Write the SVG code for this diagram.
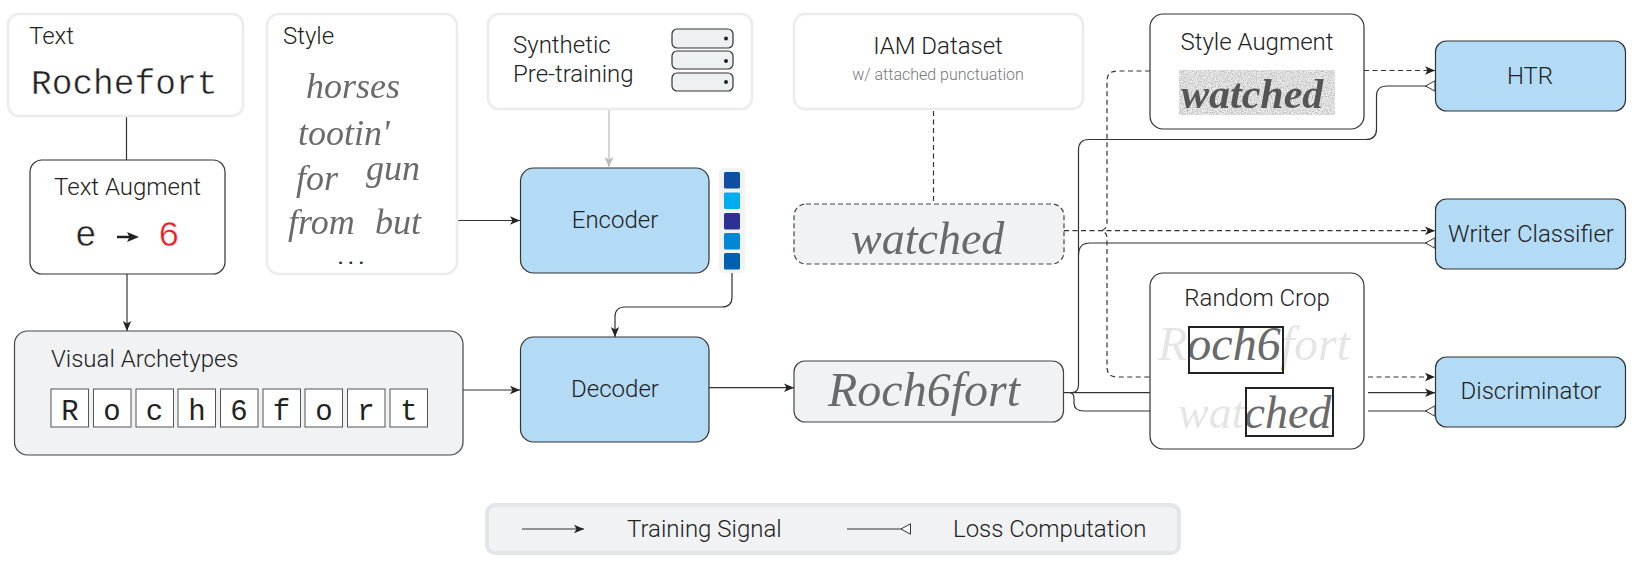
<svg xmlns="http://www.w3.org/2000/svg" width="1638" height="567" viewBox="0 0 1638 567">
<style>
text{font-family:"Roboto","Liberation Sans",sans-serif;font-weight:300;font-size:24px;fill:#222}
.mono{font-family:"Liberation Mono","DejaVu Sans Mono",monospace;font-weight:400;stroke:#fff;stroke-width:.45px;paint-order:normal}
.cellt{font-family:"Liberation Mono","DejaVu Sans Mono",monospace;font-weight:400;font-size:29px;text-anchor:middle}
.c{text-anchor:middle}
.soft{fill:#fff;stroke:#ececec;stroke-width:2.5}
.plain{fill:#fff;stroke:#333;stroke-width:1.2}
.blue{fill:#b3dbf5;stroke:#333;stroke-width:1.2}
.grey{fill:#f1f2f4;stroke:#444;stroke-width:1.2}
.dash{fill:#f1f2f4;stroke:#444;stroke-width:1.2;stroke-dasharray:5 3}
.cell{fill:#fff;stroke:#555;stroke-width:1}
.srv{fill:#edf1f1;stroke:#333;stroke-width:1.2}
.hw{font-family:"Liberation Serif","DejaVu Serif",serif;font-style:italic;font-weight:400;fill:#6a6a6a}
.crop{fill:none;stroke:#222;stroke-width:2}
.l{fill:none;stroke:#333;stroke-width:1.2}
.a{marker-end:url(#arrow)}
.o{marker-end:url(#open)}
.d{stroke-dasharray:5 3.5}
</style>
<defs>
<marker id="arrow" markerUnits="userSpaceOnUse" markerWidth="12" markerHeight="12" refX="10" refY="5" orient="auto"><path d="M0,0.8 L10,5 L0,9.2 L2.5,5 Z" fill="#222"/></marker>
<marker id="open" markerUnits="userSpaceOnUse" markerWidth="14" markerHeight="14" refX="11" refY="6" orient="auto"><path d="M1,6 L10.500,0.800 L10.500,11.200 Z" fill="#fff" stroke="#333" stroke-width="1"/></marker>
<marker id="arrowg" markerUnits="userSpaceOnUse" markerWidth="12" markerHeight="12" refX="10" refY="5" orient="auto"><path d="M0,0.5 L10,5 L0,9.5 L2.5,5 Z" fill="#bbb"/></marker>
<clipPath id="cr1"><rect x="1189" y="327" width="94" height="46"/></clipPath>
<clipPath id="cr2"><rect x="1246" y="388" width="87" height="48"/></clipPath>
<filter id="noise" x="0" y="0" width="100%" height="100%"><feTurbulence type="fractalNoise" baseFrequency="0.8" numOctaves="2" seed="3"/><feColorMatrix values="0 0 0 0 0.45 0 0 0 0 0.45 0 0 0 0 0.45 2.200 0 0 0 -0.800"/></filter>
<filter id="soften" x="-5%" y="-20%" width="110%" height="140%"><feGaussianBlur stdDeviation="0.55"/></filter>
</defs>

<g id="connectors">
<path class="l" d="M126.500 116V160"/>
<path class="l a" d="M127 274V331"/>
<path class="l a" d="M457 220.500H520"/>
<path d="M609 109V167" fill="none" stroke="#bbb" stroke-width="1.2" marker-end="url(#arrowg)"/>
<path class="l a" d="M732 273V297Q732 307 722 307H625Q615 307 615 317V337"/>
<path class="l a" d="M463 390H520"/>
<path class="l a" d="M709 387.700H794"/>
<path class="l d" d="M933.500 111V204"/>
<path class="l" d="M1063 392.700H1150" stroke-width="1.5"/>
<path class="l a" d="M1368 392.700H1435"/>
<path class="l" d="M1070 392.700Q1074 393 1074 399V403Q1074 411 1084 411H1150"/>
<path class="l o" d="M1368 411H1435.500"/>
<path class="l o" d="M1072 392.700Q1078.500 392 1078.500 385V150Q1078.500 139.500 1089 139.500H1366Q1376.500 139.500 1376.500 129V96Q1376.500 86 1387 86H1435.500"/>
<path class="l o" d="M1078.500 255Q1078.500 243 1090 243H1435.500"/>
<path class="l a d" d="M1064 230.700H1435"/>
<path class="l d" d="M1150 71H1117Q1107 71 1107 81V224Q1107 228 1102 230.700Q1107 233 1107 238V367Q1107 377 1117 377H1150"/>
<path class="l a d" d="M1364 70.500H1435"/>
<path class="l a d" d="M1368 377H1435"/>
</g>

<g id="text-input">
<rect class="soft" x="8" y="14" width="235" height="102" rx="11"/>
<text x="29" y="44">Text</text>
<text class="mono" x="31" y="94" style="font-size:34.500px">Rochefort</text>
</g>

<g id="style-input">
<rect class="soft" x="267" y="14" width="190" height="260" rx="12"/>
<text x="283" y="44">Style</text>
<g filter="url(#soften)">
<text class="hw" x="306" y="98" style="font-size:36px">horses</text>
<text class="hw" x="298" y="145" style="font-size:36px">tootin'</text>
<text class="hw" x="296" y="190" style="font-size:36px">for</text>
<text class="hw" x="366" y="180" style="font-size:36px">gun</text>
<text class="hw" x="288" y="234" style="font-size:36px">from</text>
<text class="hw" x="375" y="234" style="font-size:36px">but</text>
</g>
<text class="c" x="353" y="264" style="font-size:24px;font-weight:400;letter-spacing:4px">...</text>
</g>

<g id="text-augment">
<rect class="plain" x="30" y="160" width="195" height="114" rx="12"/>
<text class="c" x="127.500" y="195">Text Augment</text>
<text class="mono" x="75" y="246" style="font-size:36px">e</text>
<path d="M117 237H134" fill="none" stroke="#222" stroke-width="2.500"/>
<path d="M127 232L139 237L127 242L129.500 237Z" fill="#222"/>
<text class="mono" x="158" y="246" style="font-size:36px;fill:#ed1c24">6</text>
</g>

<g id="visual-archetypes">
<rect class="grey" x="14.500" y="331" width="448.500" height="124" rx="13"/>
<text x="51" y="367">Visual Archetypes</text>
<rect class="cell" x="51" y="389" width="37.500" height="38"/><text class="cellt" x="70" y="420">R</text>
<rect class="cell" x="93.500" y="389" width="37.500" height="38"/><text class="cellt" x="112" y="420">o</text>
<rect class="cell" x="136" y="389" width="37.500" height="38"/><text class="cellt" x="154.500" y="420">c</text>
<rect class="cell" x="178" y="389" width="37.500" height="38"/><text class="cellt" x="197" y="420">h</text>
<rect class="cell" x="220.500" y="389" width="37.500" height="38"/><text class="cellt" x="239" y="420">6</text>
<rect class="cell" x="263" y="389" width="37.500" height="38"/><text class="cellt" x="281.500" y="420">f</text>
<rect class="cell" x="305" y="389" width="37.500" height="38"/><text class="cellt" x="324" y="420">o</text>
<rect class="cell" x="347.500" y="389" width="37.500" height="38"/><text class="cellt" x="366" y="420">r</text>
<rect class="cell" x="390" y="389" width="37.500" height="38"/><text class="cellt" x="409" y="420">t</text>
</g>

<g id="synthetic">
<rect class="soft" x="488" y="14" width="264" height="95" rx="11"/>
<text x="513" y="53">Synthetic</text>
<text x="513" y="82">Pre-training</text>
<rect class="srv" x="672" y="29" width="61" height="19" rx="5"/><circle cx="726" cy="38.500" r="2" fill="#222"/>
<rect class="srv" x="672" y="51" width="61" height="18" rx="5"/><circle cx="726" cy="61" r="2" fill="#222"/>
<rect class="srv" x="672" y="73" width="61" height="18" rx="5"/><circle cx="726" cy="82" r="2" fill="#222"/>
</g>

<g id="encoder">
<rect class="blue" x="520.500" y="168" width="188.500" height="105" rx="13"/>
<text class="c" x="615" y="228">Encoder</text>
</g>

<g id="style-vector">
<rect x="719" y="168" width="26" height="105" rx="5" fill="#f1f2f4"/>
<rect x="724" y="172" width="16" height="16.500" rx="1.500" fill="#0d4fa3"/>
<rect x="724" y="192.500" width="16" height="16.500" rx="1.500" fill="#00aeef"/>
<rect x="724" y="213" width="16" height="16.500" rx="1.500" fill="#2e3192"/>
<rect x="724" y="233" width="16" height="16.500" rx="1.500" fill="#0088d4"/>
<rect x="724" y="253" width="16" height="16.500" rx="1.500" fill="#0060b0"/>
</g>

<g id="decoder">
<rect class="blue" x="520.500" y="337" width="188.500" height="105" rx="13"/>
<text class="c" x="615" y="397">Decoder</text>
</g>

<g id="iam-dataset">
<rect class="soft" x="794" y="14" width="289" height="95" rx="11"/>
<text class="c" x="938" y="54">IAM Dataset</text>
<text class="c" x="938" y="80" style="font-size:16px;fill:#777">w/ attached punctuation</text>
</g>

<g id="real-sample">
<rect class="dash" x="794" y="204" width="270" height="60" rx="12"/>
<text class="hw" x="851" y="254" filter="url(#soften)" style="font-size:46px">watched</text>
</g>

<g id="fake-sample">
<rect class="grey" x="794" y="361" width="269.500" height="61" rx="11"/>
<text class="hw" x="828" y="406" filter="url(#soften)" style="font-size:48px">Roch6fort</text>
</g>

<g id="style-augment">
<rect class="plain" x="1150" y="14" width="214" height="115" rx="13"/>
<text class="c" x="1257" y="50">Style Augment</text>
<rect x="1179" y="70" width="156" height="45" fill="#eee"/>
<rect x="1179" y="70" width="156" height="45" filter="url(#noise)"/>
<text class="hw" x="1181" y="108" filter="url(#soften)" style="font-size:42px;font-weight:700;fill:#555">watched</text>
</g>

<g id="random-crop">
<rect class="plain" x="1150" y="273" width="214" height="176" rx="13"/>
<text class="c" x="1257" y="306">Random Crop</text>
<text class="hw" x="1158" y="360" opacity=".17" style="font-size:48px">Roch6fort</text>
<text class="hw" x="1158" y="360" clip-path="url(#cr1)" style="font-size:48px">Roch6fort</text>
<rect class="crop" x="1189" y="327" width="94" height="46"/>
<text class="hw" x="1178" y="428" opacity=".17" style="font-size:46px">watched</text>
<text class="hw" x="1178" y="428" clip-path="url(#cr2)" style="font-size:46px">watched</text>
<rect class="crop" x="1246" y="388" width="87" height="48"/>
</g>

<g id="htr">
<rect class="blue" x="1435.500" y="41" width="190" height="70" rx="11"/>
<text class="c" x="1530" y="84">HTR</text>
</g>
<g id="writer-classifier">
<rect class="blue" x="1435.500" y="199" width="190" height="70" rx="11"/>
<text class="c" x="1531" y="242">Writer Classifier</text>
</g>
<g id="discriminator">
<rect class="blue" x="1435.500" y="357" width="190" height="70" rx="11"/>
<text class="c" x="1531" y="399">Discriminator</text>
</g>

<g id="legend">
<rect x="487" y="505" width="692" height="48" rx="8" fill="#f1f2f4" stroke="#e4e5e7" stroke-width="4"/>
<path class="l a" d="M522 529H584"/>
<text x="627" y="537">Training Signal</text>
<path class="l o" d="M847 529H911"/>
<text x="953" y="537">Loss Computation</text>
</g>
</svg>
